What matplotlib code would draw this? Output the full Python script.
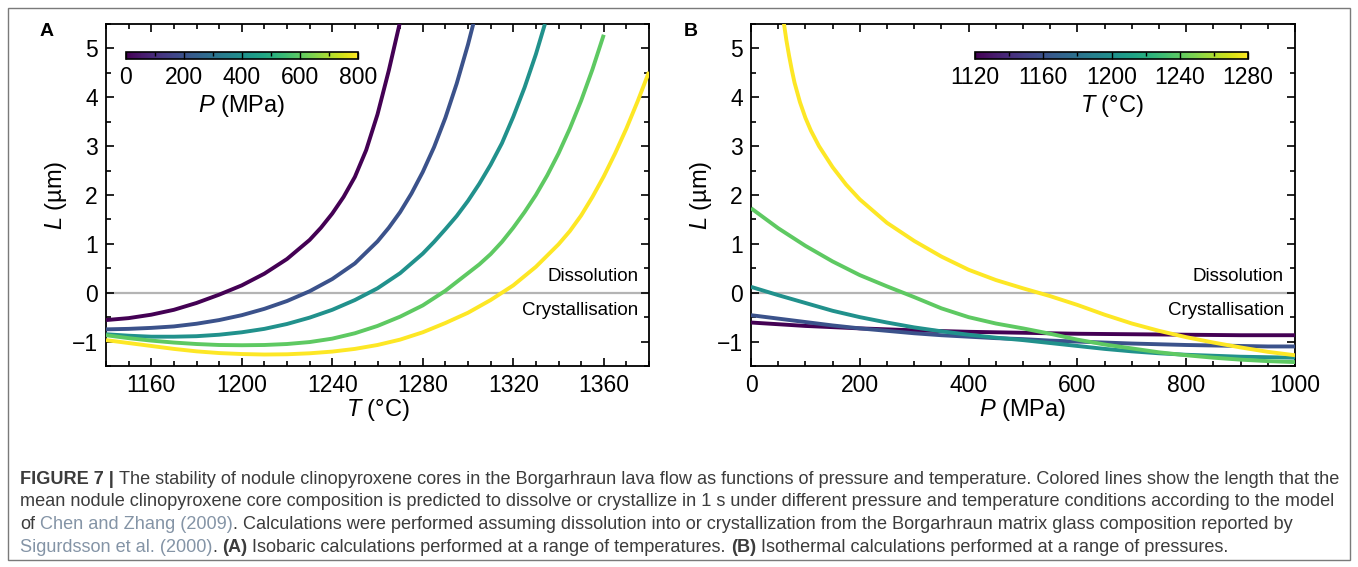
import matplotlib
matplotlib.use('Agg')
import matplotlib.pyplot as plt
from matplotlib import cm, colors
from matplotlib.ticker import MultipleLocator

plt.rcParams['font.family'] = ['Liberation Sans', 'DejaVu Sans']
plt.rcParams['mathtext.fontset'] = 'custom'
plt.rcParams['mathtext.it'] = 'Liberation Sans:italic'
plt.rcParams['mathtext.rm'] = 'Liberation Sans'

# ---------------- data: panel A (isobaric, L vs T) ----------------
pressures_A = [0, 200, 400, 600, 800]  # MPa

T_A0 = [1140, 1150, 1160, 1170, 1180, 1190, 1200, 1210, 1220, 1230, 1235, 1240, 1245, 1250, 1255, 1260, 1265, 1270, 1272]
L_A0 = [-0.56, -0.52, -0.45, -0.35, -0.21, -0.04, 0.15, 0.39, 0.69, 1.08, 1.33, 1.62, 1.96, 2.37, 2.92, 3.65, 4.55, 5.55, 6.0]

T_A200 = [1140, 1150, 1160, 1170, 1180, 1190, 1200, 1210, 1220, 1230, 1240, 1250, 1260, 1265, 1270, 1275, 1280, 1285, 1290, 1295, 1300, 1304]
L_A200 = [-0.75, -0.74, -0.72, -0.69, -0.635, -0.56, -0.46, -0.33, -0.17, 0.03, 0.28, 0.60, 1.05, 1.33, 1.65, 2.03, 2.47, 2.98, 3.58, 4.28, 5.08, 5.8]

T_A400 = [1140, 1150, 1160, 1170, 1180, 1190, 1200, 1210, 1220, 1230, 1240, 1250, 1260, 1270, 1280, 1285, 1290, 1295, 1300, 1305, 1310, 1315, 1320, 1325, 1330, 1334]
L_A400 = [-0.85, -0.88, -0.90, -0.90, -0.89, -0.86, -0.81, -0.74, -0.64, -0.51, -0.35, -0.15, 0.09, 0.40, 0.80, 1.04, 1.30, 1.57, 1.88, 2.23, 2.62, 3.06, 3.60, 4.20, 4.88, 5.5]

T_A600 = [1140, 1150, 1160, 1170, 1180, 1190, 1200, 1210, 1220, 1230, 1240, 1250, 1260, 1270, 1280, 1290, 1300, 1305, 1310, 1315, 1320, 1325, 1330, 1335, 1340, 1345, 1350, 1355, 1360]
L_A600 = [-0.87, -0.93, -0.98, -1.02, -1.05, -1.07, -1.075, -1.07, -1.05, -1.01, -0.94, -0.83, -0.68, -0.49, -0.26, 0.04, 0.40, 0.58, 0.79, 1.04, 1.33, 1.65, 2.00, 2.40, 2.85, 3.36, 3.93, 4.57, 5.28]

T_A800 = [1140, 1150, 1160, 1170, 1180, 1190, 1200, 1210, 1220, 1230, 1240, 1250, 1260, 1270, 1280, 1290, 1300, 1310, 1320, 1330, 1340, 1345, 1350, 1355, 1360, 1365, 1370, 1375, 1380]
L_A800 = [-0.97, -1.03, -1.09, -1.15, -1.20, -1.235, -1.255, -1.265, -1.26, -1.24, -1.205, -1.15, -1.07, -0.96, -0.81, -0.62, -0.41, -0.15, 0.15, 0.53, 0.99, 1.26, 1.58, 1.96, 2.38, 2.85, 3.36, 3.92, 4.52]

curves_A = [(T_A0, L_A0), (T_A200, L_A200), (T_A400, L_A400), (T_A600, L_A600), (T_A800, L_A800)]

# ---------------- data: panel B (isothermal, L vs P) ----------------
temperatures_B = [1120, 1160, 1200, 1240, 1280]  # degC

P_B = [0, 50, 100, 150, 200, 250, 300, 350, 400, 450, 500, 550, 600, 650, 700, 750, 800, 850, 900, 950, 1000]
L_B1120 = [-0.61, -0.645, -0.68, -0.705, -0.73, -0.75, -0.77, -0.785, -0.80, -0.81, -0.82, -0.83, -0.84, -0.845, -0.85, -0.855, -0.86, -0.865, -0.87, -0.87, -0.87]
L_B1160 = [-0.46, -0.53, -0.60, -0.67, -0.73, -0.78, -0.83, -0.87, -0.90, -0.93, -0.95, -0.98, -1.00, -1.02, -1.04, -1.055, -1.07, -1.08, -1.09, -1.10, -1.10]
L_B1200 = [0.12, -0.05, -0.21, -0.37, -0.50, -0.61, -0.71, -0.79, -0.86, -0.92, -0.97, -1.03, -1.09, -1.15, -1.20, -1.24, -1.27, -1.29, -1.31, -1.32, -1.33]
L_B1240 = [1.73, 1.32, 0.96, 0.64, 0.36, 0.13, -0.09, -0.32, -0.50, -0.63, -0.73, -0.84, -0.96, -1.06, -1.14, -1.22, -1.28, -1.33, -1.37, -1.40, -1.42]

P_B1280 = [55, 60, 65, 70, 75, 80, 90, 100, 110, 125, 150, 175, 200, 250, 300, 350, 400, 450, 500, 550, 600, 650, 700, 750, 800, 850, 900, 950, 1000]
L_B1280 = [6.0, 5.55, 5.17, 4.85, 4.56, 4.30, 3.90, 3.58, 3.32, 3.00, 2.57, 2.21, 1.91, 1.43, 1.06, 0.74, 0.47, 0.26, 0.09, -0.07, -0.25, -0.45, -0.63, -0.78, -0.91, -1.02, -1.12, -1.21, -1.28]

curves_B = [(P_B, L_B1120), (P_B, L_B1160), (P_B, L_B1200), (P_B, L_B1240), (P_B1280, L_B1280)]

# ---------------- caption ----------------
DARK = '#3c3c3c'
LINK = '#8494a6'
caption_lines = [
    [("FIGURE 7 |", 'bold', DARK, False),
     ("The stability of nodule clinopyroxene cores in the Borgarhraun lava flow as functions of pressure and temperature. Colored lines show the length that the", 'normal', DARK, True)],
    [("mean nodule clinopyroxene core composition is predicted to dissolve or crystallize in 1 s under different pressure and temperature conditions according to the model", 'normal', DARK, False)],
    [("of", 'normal', DARK, False),
     ("Chen and Zhang (2009)", 'normal', LINK, True),
     (". Calculations were performed assuming dissolution into or crystallization from the Borgarhraun matrix glass composition reported by", 'normal', DARK, False)],
    [("Sigurdsson et al. (2000)", 'normal', LINK, False),
     (".", 'normal', DARK, False),
     ("(A)", 'bold', DARK, True),
     ("Isobaric calculations performed at a range of temperatures.", 'normal', DARK, True),
     ("(B)", 'bold', DARK, True),
     ("Isothermal calculations performed at a range of pressures.", 'normal', DARK, True)],
]

# ---------------- figure ----------------
W, H = 1358, 567
fig = plt.figure(figsize=(W / 100, H / 100), dpi=100)

fig.patches.append(plt.Rectangle((8 / W, 1 - 560 / H), (1350 - 8) / W, (560 - 8) / H,
                                 transform=fig.transFigure, fill=False,
                                 edgecolor='#7a7a7a', lw=1.0))

axA = fig.add_axes([106 / W, 1 - 366 / H, 543 / W, 342 / H])
axB = fig.add_axes([751 / W, 1 - 366 / H, 544 / W, 342 / H])

cmap = plt.get_cmap('viridis')
normA = colors.Normalize(0, 800)
normB = colors.Normalize(1120, 1280)

TICK_FS = 16.5
LABEL_FS = 17


def style(ax):
    ax.set_ylim(-1.5, 5.5)
    ax.yaxis.set_major_locator(MultipleLocator(1))
    ax.yaxis.set_minor_locator(MultipleLocator(0.5))
    ax.tick_params(which='both', direction='in', top=True, right=True,
                   labelsize=TICK_FS, width=1.2, pad=6)
    ax.tick_params(which='major', length=6)
    ax.tick_params(which='minor', length=3.5)
    for s in ax.spines.values():
        s.set_linewidth(1.3)
    ax.axhline(0, color='#b4b4b4', lw=1.6, zorder=1)
    tr = ax.get_yaxis_transform()
    ax.text(0.98, 0.33, 'Dissolution', transform=tr, ha='right', va='center', fontsize=13.5)
    ax.text(0.98, -0.37, 'Crystallisation', transform=tr, ha='right', va='center', fontsize=13.5)
    ax.set_ylabel('$L$ (µm)', fontsize=LABEL_FS, labelpad=2)


# Panel A
for p, (t, l) in zip(pressures_A, curves_A):
    axA.plot(t, l, color=cmap(normA(p)), lw=2.8, zorder=3, solid_capstyle='butt',
             solid_joinstyle='round')
axA.set_xlim(1140, 1380)
axA.xaxis.set_major_locator(MultipleLocator(40))
axA.xaxis.set_minor_locator(MultipleLocator(10))
style(axA)
axA.set_xlabel('$T$ (°C)', fontsize=LABEL_FS, labelpad=0)

# Panel B
for tt, (p, l) in zip(temperatures_B, curves_B):
    axB.plot(p, l, color=cmap(normB(tt)), lw=2.8, zorder=3, solid_capstyle='butt',
             solid_joinstyle='round')
axB.set_xlim(0, 1000)
axB.xaxis.set_major_locator(MultipleLocator(200))
axB.xaxis.set_minor_locator(MultipleLocator(50))
style(axB)
axB.set_xlabel('$P$ (MPa)', fontsize=LABEL_FS, labelpad=0)


# colorbars
def make_cbar(rect, norm, ticks, minor, label):
    cax = fig.add_axes(rect)
    cb = fig.colorbar(cm.ScalarMappable(norm=norm, cmap=cmap), cax=cax, orientation='horizontal')
    cb.set_ticks(ticks)
    cax.xaxis.set_minor_locator(MultipleLocator(minor))
    cax.tick_params(which='both', direction='in', top=True, bottom=False,
                    labelbottom=True, labeltop=False, labelsize=TICK_FS, width=1.0, pad=5)
    cax.tick_params(which='major', length=5.3)
    cax.tick_params(which='minor', length=2.6)
    cb.outline.set_linewidth(1.2)
    cb.set_label(label, fontsize=LABEL_FS, labelpad=3)
    return cb


make_cbar([126 / W, 1 - 59 / H, 232 / W, 7.3 / H], normA, [0, 200, 400, 600, 800], 100, '$P$ (MPa)')
make_cbar([975 / W, 1 - 59 / H, 273 / W, 7.3 / H], normB, [1120, 1160, 1200, 1240, 1280], 20, '$T$ (°C)')

# panel letters
fig.text(40 / W, 1 - 31 / H, 'A', fontsize=14, weight='bold', va='center', ha='left')
fig.text(684 / W, 1 - 31 / H, 'B', fontsize=14, weight='bold', va='center', ha='left')

# caption with mixed styles
renderer = fig.canvas.get_renderer()


def tw(s, size, weight):
    t = fig.text(0, 0, s, fontsize=size, weight=weight)
    w = t.get_window_extent(renderer).width
    t.remove()
    return w


def line_width(segs, size):
    sp = tw('a a', size, 'normal') - tw('aa', size, 'normal')
    total = 0
    for s, wt, c, gap in segs:
        if gap:
            total += sp
        total += tw(s, size, wt)
    return total


base = 11.0
w1 = line_width(caption_lines[0], base)
cap_fs = base * 1318 / w1
space_w = tw('a a', cap_fs, 'normal') - tw('aa', cap_fs, 'normal')
baselines = [484, 506.5, 529, 551.5]
for segs, yb in zip(caption_lines, baselines):
    x = 20.0
    for s, wt, c, gap in segs:
        if gap:
            x += space_w
        t = fig.text(x / W, 1 - yb / H, s, fontsize=cap_fs, weight=wt, color=c,
                     va='baseline', ha='left')
        x += t.get_window_extent(renderer).width

fig.savefig('out.png', dpi=100)
